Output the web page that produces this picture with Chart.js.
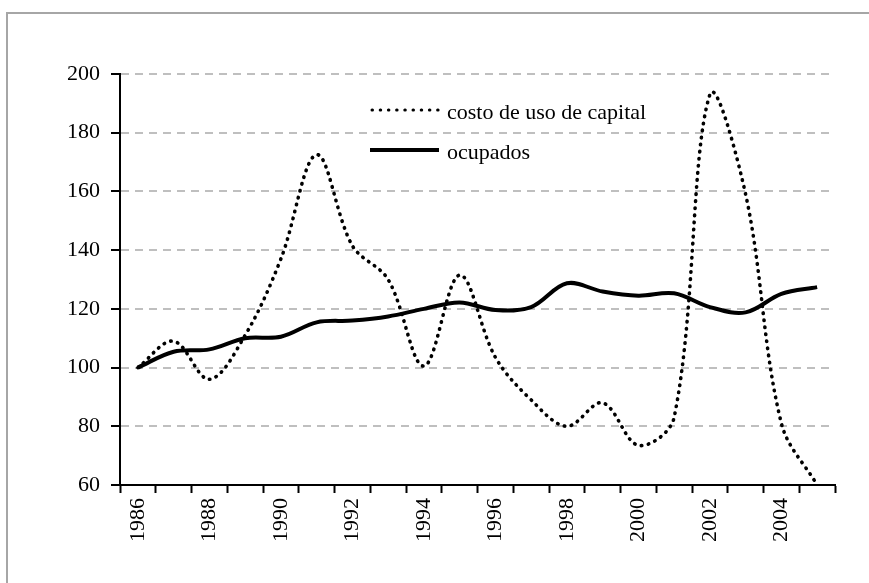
<!DOCTYPE html>
<html>
<head>
<meta charset="utf-8">
<script src="https://cdn.jsdelivr.net/npm/chart.js@4.4.1/dist/chart.umd.min.js"></script>
<style>
  html, body { margin: 0; padding: 0; background: #fff; }
  canvas { display: block; }
</style>
</head>
<body>
<canvas id="chart" width="869" height="583"></canvas>
<script>
// años (eje x)
const years = ['1986','1987','1988','1989','1990','1991','1992','1993','1994','1995',
               '1996','1997','1998','1999','2000','2001','2002','2003','2004','2005'];
// series (índice 1986 = 100)
const costoCapital = [100, 109, 96, 111, 137, 172.5, 141.5, 130, 100.5, 131.5,
                      103.5, 89, 80, 88, 73.5, 83, 193, 159, 81, 60];
const ocupados = [100, 105.4, 106.2, 110, 110.5, 115.4, 116, 117.4, 120, 122.2,
                  119.6, 120.6, 128.7, 125.9, 124.5, 125.3, 120.6, 118.8, 125.1, 127.4];
const yTicks = { min: 60, max: 200, step: 20 };
const legendLabels = ['costo de uso de capital', 'ocupados'];

const FONT = '"Liberation Serif", "Times New Roman", serif';

// fondo blanco + marco gris (solo arriba/izquierda, la imagen está recortada)
const framePlugin = {
  id: 'frame',
  beforeDraw(chart) {
    const ctx = chart.ctx;
    ctx.save();
    ctx.fillStyle = '#fff';
    ctx.fillRect(0, 0, chart.width, chart.height);
    ctx.strokeStyle = '#a6a6a6';
    ctx.lineWidth = 2;
    ctx.beginPath();
    ctx.moveTo(7, chart.height);
    ctx.lineTo(7, 13);
    ctx.lineTo(chart.width, 13);
    ctx.stroke();
    ctx.restore();
  }
};

// leyenda dentro del área del gráfico, como en el original
const legendPlugin = {
  id: 'innerLegend',
  afterDraw(chart) {
    const ctx = chart.ctx;
    ctx.save();
    ctx.font = '22px ' + FONT;
    ctx.fillStyle = '#000';
    ctx.textBaseline = 'alphabetic';

    ctx.strokeStyle = '#000';
    ctx.lineCap = 'round';
    ctx.lineWidth = 3;
    ctx.setLineDash([0.5, 7.7]);
    ctx.beginPath();
    ctx.moveTo(372, 110);
    ctx.lineTo(439, 110);
    ctx.stroke();
    ctx.fillText(legendLabels[0], 447, 119);

    ctx.setLineDash([]);
    ctx.lineCap = 'butt';
    ctx.lineWidth = 4;
    ctx.beginPath();
    ctx.moveTo(370, 150);
    ctx.lineTo(439, 150);
    ctx.stroke();
    ctx.fillText(legendLabels[1], 447, 159);
    ctx.restore();
  }
};

new Chart(document.getElementById('chart'), {
  type: 'line',
  data: {
    labels: years,
    datasets: [
      {
        label: legendLabels[0],
        data: costoCapital,
        borderColor: '#000',
        borderWidth: 3.6,
        borderDash: [0.5, 6.6],
        borderCapStyle: 'round',
        pointRadius: 0,
        tension: 0.35,
        fill: false
      },
      {
        label: legendLabels[1],
        data: ocupados,
        borderColor: '#000',
        borderWidth: 4,
        pointRadius: 0,
        tension: 0.35,
        fill: false
      }
    ]
  },
  options: {
    responsive: false,
    animation: false,
    devicePixelRatio: 1,
    layout: { padding: { top: 74, right: 34, left: 0, bottom: 0 } },
    plugins: {
      legend: { display: false },
      tooltip: { enabled: false }
    },
    scales: {
      x: {
        type: 'category',
        offset: true,
        afterFit(s) { s.height = 98; },
        grid: {
          offset: true,
          drawOnChartArea: false,
          drawTicks: true,
          tickLength: 8,
          tickColor: '#000',
          tickWidth: 2
        },
        border: { color: '#000', width: 2 },
        ticks: {
          autoSkip: false,
          maxRotation: 90,
          minRotation: 90,
          padding: 5,
          color: '#000',
          font: { family: FONT, size: 22 },
          callback(value, index) {
            return index % 2 === 0 ? this.getLabelForValue(value) : '';
          }
        }
      },
      y: {
        min: yTicks.min,
        max: yTicks.max,
        afterFit(s) { s.width = 120; },
        grid: {
          color: '#bfbfbf',
          lineWidth: 2,
          tickLength: 9,
          tickColor: '#000',
          tickWidth: 2,
          tickBorderDash: []
        },
        border: { color: '#000', width: 2, dash: [8, 6] },
        ticks: {
          stepSize: yTicks.step,
          padding: 11,
          color: '#000',
          font: { family: FONT, size: 22 }
        }
      }
    }
  },
  plugins: [framePlugin, legendPlugin]
});
</script>
</body>
</html>
